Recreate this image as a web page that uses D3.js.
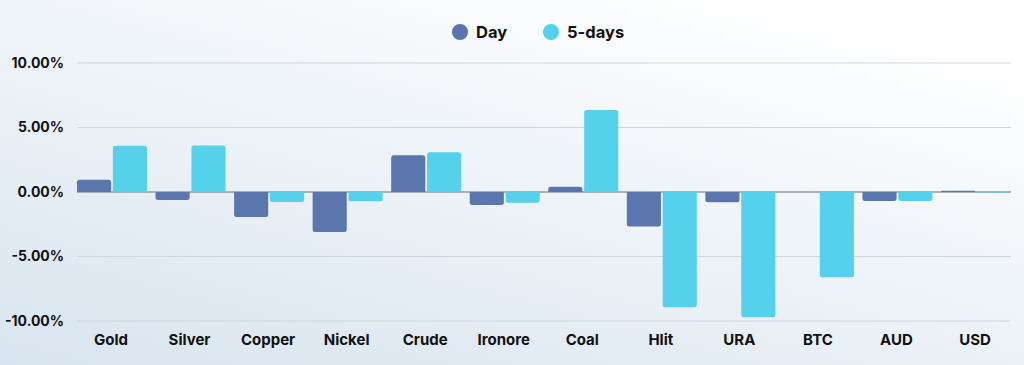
<!DOCTYPE html>
<html>
<head>
<meta charset="utf-8">
<script src="https://cdn.jsdelivr.net/npm/d3@7"></script>
<style>
  body { margin: 0; }
  #chart text { font-family: Inter, "Open Sans", sans-serif; font-weight: 700; fill: #111; }
</style>
</head>
<body>
<div id="chart"></div>
<script>
const categories = ['Gold', 'Silver', 'Copper', 'Nickel', 'Crude', 'Ironore', 'Coal', 'Hlit', 'URA', 'BTC', 'AUD', 'USD'];
const seriesNames = ['Day', '5-days'];
const dayValues = [0.95, -0.62, -1.94, -3.1, 2.85, -1.0, 0.41, -2.68, -0.8, 0, -0.7, 0.1];
const fiveDayValues = [3.59, 3.6, -0.78, -0.72, 3.08, -0.83, 6.36, -8.93, -9.7, -6.6, -0.7, -0.03];
const yTicks = [-10, -5, 0, 5, 10];
const colors = ['#5a76ac', '#55d1eb'];

const W = 1024, H = 365;
const margin = { top: 63, right: 13, bottom: 44, left: 77 };
const width = W - margin.left - margin.right;
const height = H - margin.top - margin.bottom;

const svg = d3.select('#chart').append('svg')
    .attr('width', W)
    .attr('height', H);

// background gradient, white top-right to pale blue bottom-left
const grad = svg.append('defs').append('linearGradient')
    .attr('id', 'bg')
    .attr('x1', '0%').attr('y1', '100%')
    .attr('x2', '75%').attr('y2', '0%');
grad.append('stop').attr('offset', '0%').attr('stop-color', '#d8e4ef');
grad.append('stop').attr('offset', '100%').attr('stop-color', '#ffffff');
svg.append('rect').attr('width', W).attr('height', H).attr('fill', 'url(#bg)');

const g = svg.append('g').attr('transform', `translate(${margin.left},${margin.top})`);

const x = d3.scaleBand()
    .domain(categories)
    .range([0, width])
    .paddingInner(0.109)
    .paddingOuter(0);

const xSub = d3.scaleBand()
    .domain(seriesNames)
    .range([0, x.bandwidth()])
    .paddingInner(0.05);

const y = d3.scaleLinear()
    .domain([-10, 10])
    .range([height, 0]);

// gridlines
g.append('g')
    .selectAll('line')
    .data(yTicks)
    .join('line')
    .attr('x1', 0)
    .attr('x2', width)
    .attr('y1', d => y(d))
    .attr('y2', d => y(d))
    .attr('stroke', d => d === 0 ? '#9a9a9a' : '#d2d5d9')
    .attr('stroke-width', d => d === 0 ? 1.5 : 1.2);

// y labels
g.append('g')
    .call(d3.axisLeft(y).tickValues(yTicks).tickSize(0).tickPadding(13).tickFormat(d => d.toFixed(2) + '%'))
    .call(a => a.select('.domain').remove())
    .selectAll('text')
    .style('font-size', '14px');

// x labels
g.append('g')
    .attr('transform', `translate(0,${height})`)
    .call(d3.axisBottom(x).tickSize(0).tickPadding(13))
    .call(a => a.select('.domain').remove())
    .selectAll('text')
    .style('font-size', '15px')
    .attr('dx', '-1');

// bars: rounded at the end away from zero
function barPath(x0, w, v) {
    const y0 = y(0), y1 = y(v);
    const r = Math.min(2.5, Math.abs(y1 - y0));
    if (v >= 0) {
        return `M${x0},${y0}V${y1 + r}Q${x0},${y1} ${x0 + r},${y1}H${x0 + w - r}Q${x0 + w},${y1} ${x0 + w},${y1 + r}V${y0}Z`;
    }
    return `M${x0},${y0}V${y1 - r}Q${x0},${y1} ${x0 + r},${y1}H${x0 + w - r}Q${x0 + w},${y1} ${x0 + w},${y1 - r}V${y0}Z`;
}

const allSeries = [dayValues, fiveDayValues];
allSeries.forEach((vals, si) => {
    g.append('g')
        .selectAll('path')
        .data(categories.map((c, i) => ({ c, v: vals[i] })).filter(d => d.v !== 0))
        .join('path')
        .attr('d', d => barPath(x(d.c) + xSub(seriesNames[si]), xSub.bandwidth(), d.v))
        .attr('fill', colors[si]);
});

// legend
const legendData = [
    { name: 'Day', cx: 460, color: colors[0] },
    { name: '5-days', cx: 551, color: colors[1] }
];
const legend = svg.append('g');
legend.selectAll('circle')
    .data(legendData)
    .join('circle')
    .attr('cx', d => d.cx)
    .attr('cy', 32)
    .attr('r', 8)
    .attr('fill', d => d.color);
legend.selectAll('text')
    .data(legendData)
    .join('text')
    .attr('x', d => d.cx + 16)
    .attr('y', 38)
    .style('font-size', '16.5px')
    .text(d => d.name);
</script>
</body>
</html>
